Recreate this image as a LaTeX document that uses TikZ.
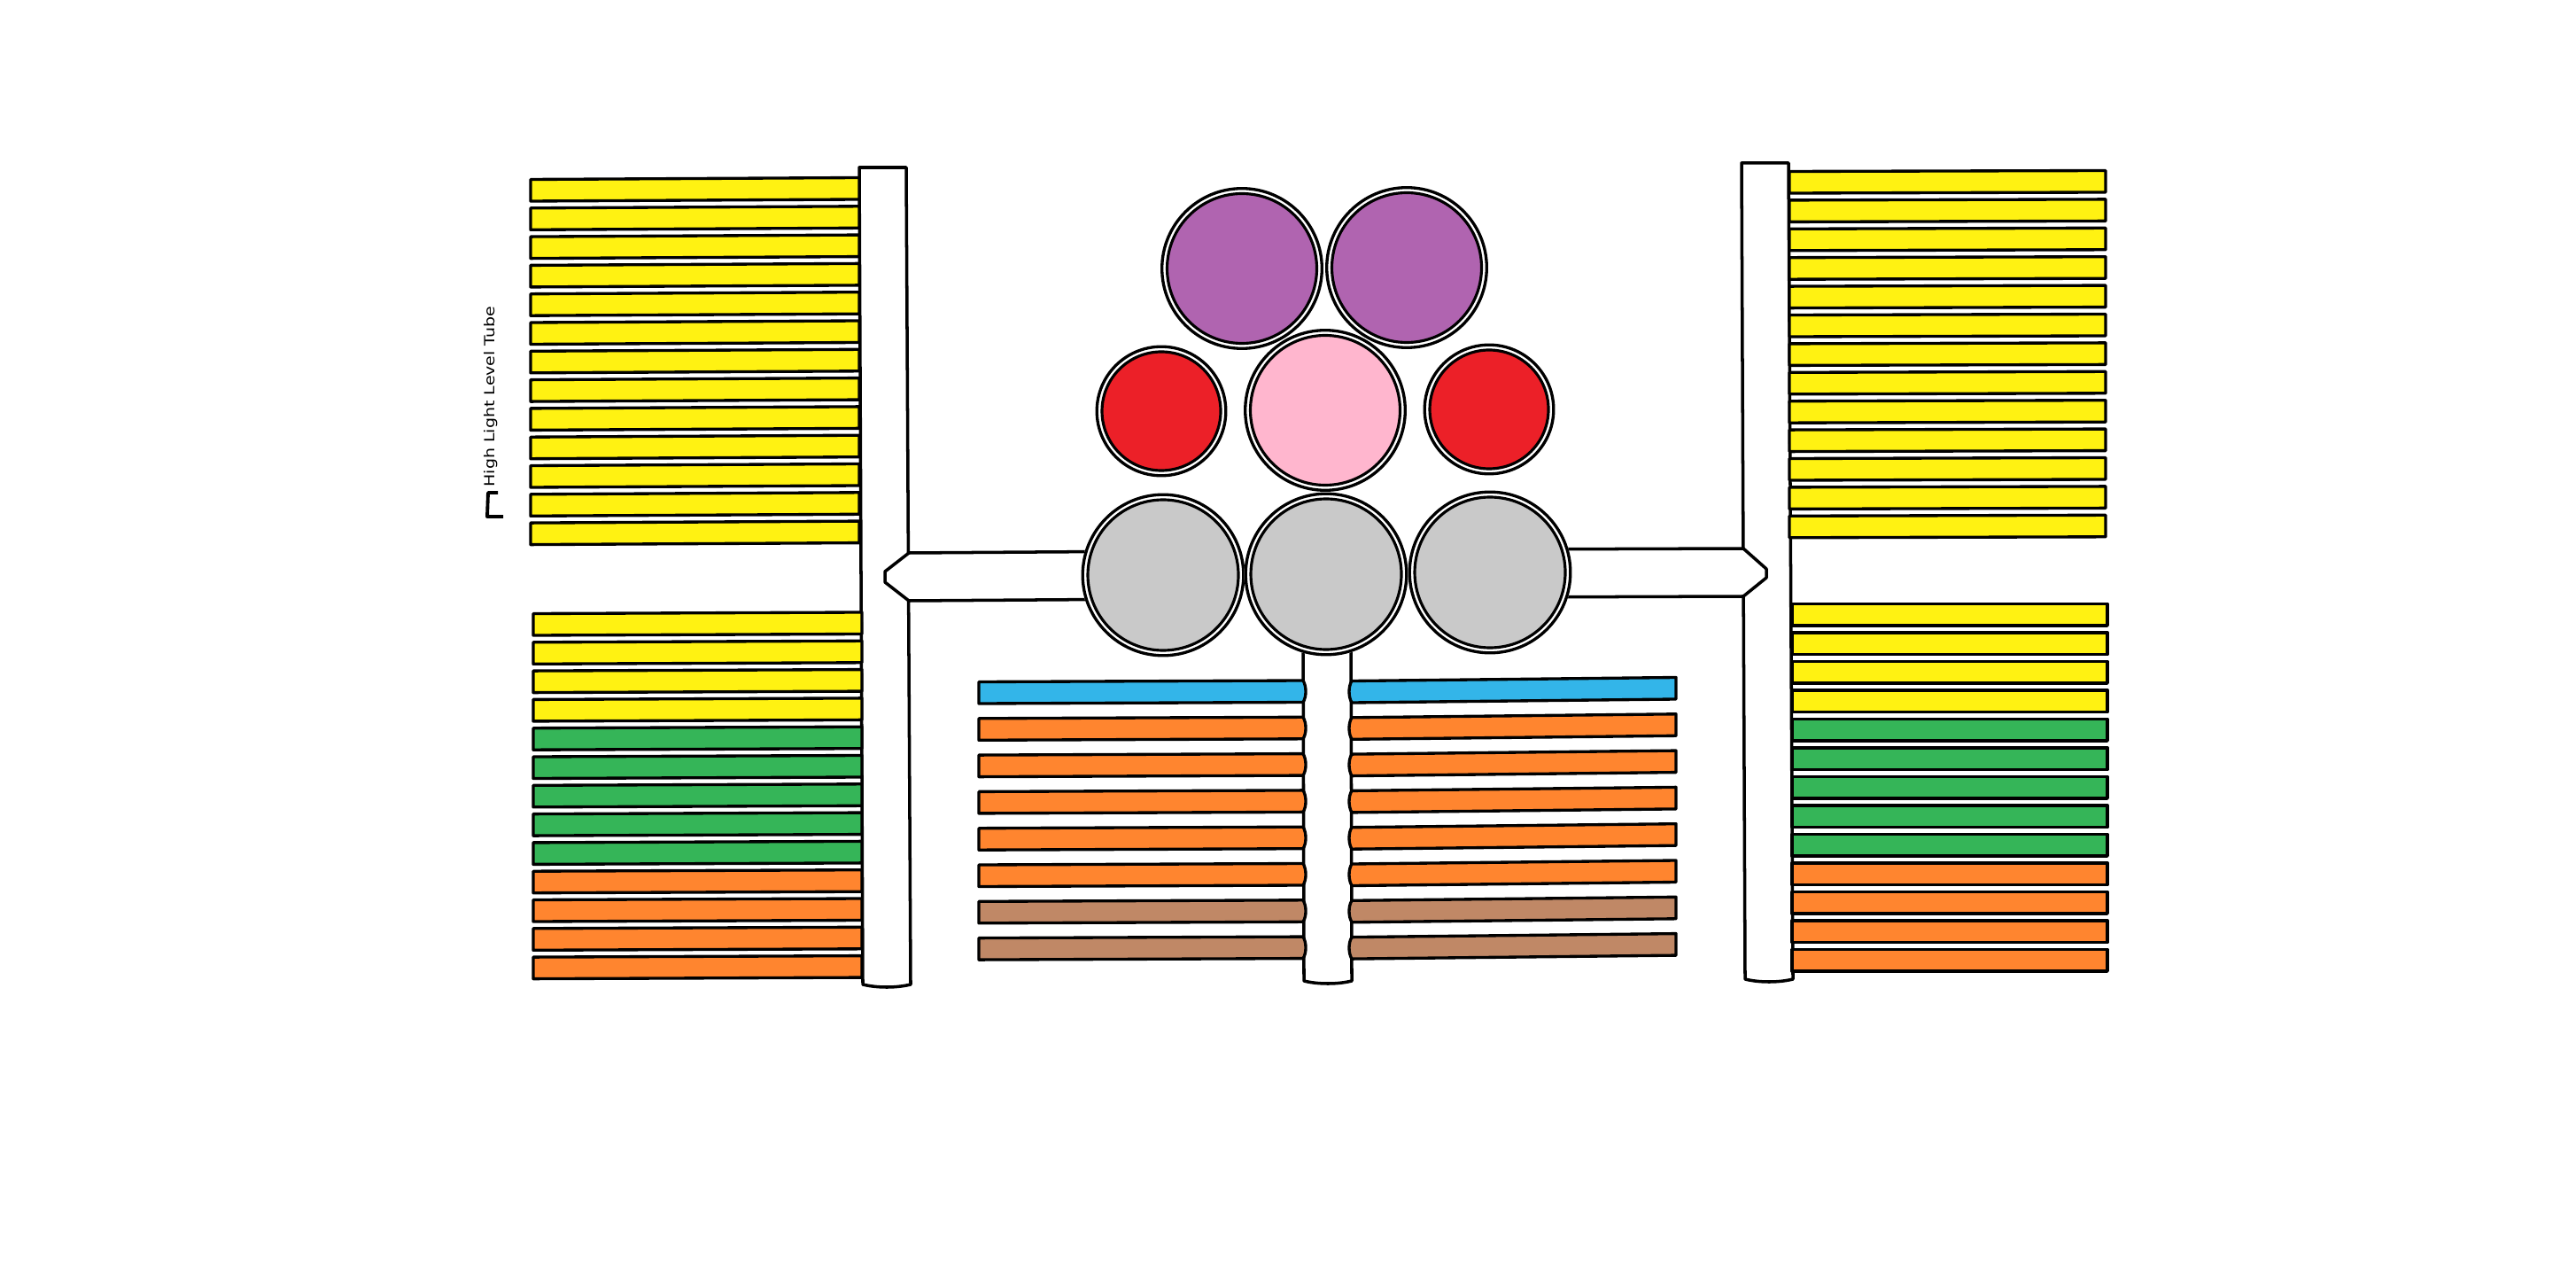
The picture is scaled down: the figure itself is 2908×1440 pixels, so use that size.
\documentclass[tikz,border=0pt]{standalone}
\usepackage{fontspec}
\newfontfamily\lblfont{DejaVu Sans}
\definecolor{cyel}{HTML}{FFF212}
\definecolor{cgrn}{HTML}{35B558}
\definecolor{corg}{HTML}{FF852F}
\definecolor{cblu}{HTML}{33B5E9}
\definecolor{cbrn}{HTML}{C08866}
\definecolor{cpur}{HTML}{B064B0}
\definecolor{cred}{HTML}{EC2028}
\definecolor{cpnk}{HTML}{FFB6CE}
\definecolor{cgry}{HTML}{C9C9C9}
\newcommand\mybar[5]{\draw[barline, fill=#5] (#1,#3) -- (#2,#3-#4) -- (#2,#3-#4+24.5) -- (#1,#3+24.5) -- cycle;}
\newcommand\cbarL[2]{\draw[barline, fill=#2] (1105,#1) -- (1471,#1-1.5) .. controls (1475,#1+5) and (1475,#1+17) .. (1471,#1+23) -- (1105,#1+24.5) -- cycle;}
\newcommand\cbarR[2]{\draw[barline, fill=#2] (1526,#1) -- (1892,#1-4) -- (1892,#1+20.5) -- (1526,#1+24.5) .. controls (1522,#1+18) and (1522,#1+6) .. (1526,#1) -- cycle;}
\newcommand\ringc[4]{%
  \fill[white] (#1,#2) circle[radius=#3];
  \draw[line width=0.95pt] (#1,#2) circle[radius=#3-0.17mm];
  \fill[#4] (#1,#2) circle[radius=#3-0.75mm];
  \draw[line width=0.9pt] (#1,#2) circle[radius=#3-0.75mm];}
\begin{document}
\begin{tikzpicture}[x=0.1mm,y=-0.1mm,line join=round,
  barline/.style={draw=black,line width=0.95pt},
  tubeline/.style={draw=black,fill=white,line width=1pt}]
\useasboundingbox (0,0) rectangle (2908,1440);
\fill[white] (0,0) rectangle (2908,1440);

% tubes
\draw[tubeline] (970,189) -- (1023,189) -- (1028,1111) .. controls (1012,1115) and (990,1115) .. (974,1111) -- cycle;
\draw[tubeline] (1966,184) -- (2019,184) -- (2024,1105) .. controls (2008,1109) and (1986,1109) .. (1970,1105) -- cycle;
\draw[tubeline] (1471,690) -- (1472,1107) .. controls (1488,1111) and (1510,1111) .. (1526,1107) -- (1525,690);

% arms
\fill[white] (1313,624) -- (1026,624) -- (999,645) -- (999,657) -- (1026,678) -- (1313,678) -- cycle;
\draw[line width=1pt] (1313,622) -- (1026,624) -- (999,645) -- (999,657) -- (1026,678) -- (1313,676);
\fill[white] (1682,619) -- (1968,619) -- (1994,642) -- (1994,652) -- (1968,673) -- (1682,673) -- cycle;
\draw[line width=1pt] (1682,620) -- (1968,619) -- (1994,642) -- (1994,652) -- (1968,673) -- (1682,674);

% circles
\ringc{1402}{303}{9.2mm}{cpur}
\ringc{1588}{302}{9.2mm}{cpur}
\ringc{1311}{464}{7.45mm}{cred}
\ringc{1496}{463}{9.2mm}{cpnk}
\ringc{1681}{462}{7.45mm}{cred}
\ringc{1313}{649}{9.25mm}{cgry}
\ringc{1497}{648}{9.25mm}{cgry}
\ringc{1682}{646}{9.25mm}{cgry}

% left upper bars
\foreach \i in {0,...,12} {\mybar{599}{970}{202.5+32.3*\i}{2}{cyel}}
% left lower bars
\foreach \i/\c in {0/cyel,1/cyel,2/cyel,3/cyel,4/cgrn,5/cgrn,6/cgrn,7/cgrn,8/cgrn,9/corg,10/corg,11/corg,12/corg}
  {\mybar{602}{973}{692.5+32.3*\i}{1.5}{\c}}
% right upper bars
\foreach \i in {0,...,12} {\mybar{2020}{2377}{193.5+32.4*\i}{1}{cyel}}
% right lower bars
\foreach \i/\c in {0/cyel,1/cyel,2/cyel,3/cyel,4/cgrn,5/cgrn,6/cgrn,7/cgrn,8/cgrn,9/corg,10/corg,11/corg,12/corg}
  {\mybar{2023}{2379}{681.5+32.5*\i}{0}{\c}}
% central bars
\foreach \i/\c in {0/cblu,1/corg,2/corg,3/corg,4/corg,5/corg,6/cbrn,7/cbrn}
  {\cbarL{769.5+41.3*\i}{\c}\cbarR{768.5+41.3*\i}{\c}}

% label
\draw[line width=1.1pt] (562,556) -- (551,556) -- (550,583) -- (568,583);
\node[rotate=90,anchor=base west,inner sep=0pt,font={\lblfont\fontsize{4.5pt}{5pt}\selectfont}] (label) at (558,550) {\scalebox{1.2}[1]{High Light Level Tube}};
\end{tikzpicture}
\end{document}
